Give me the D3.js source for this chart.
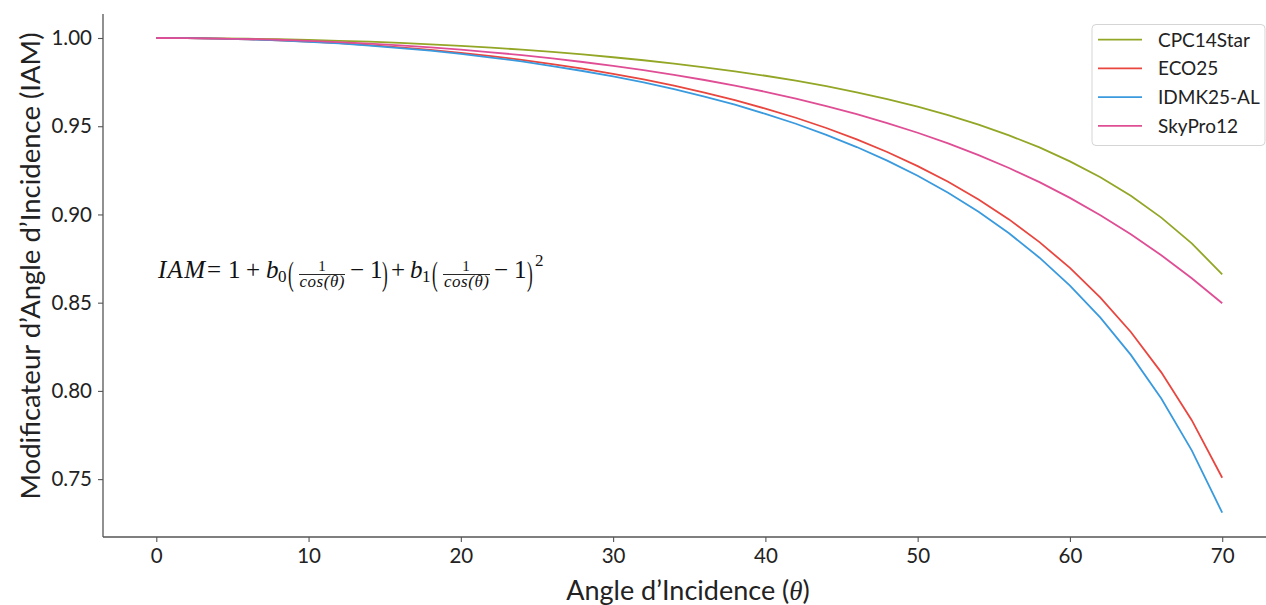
<!DOCTYPE html>
<html><head><meta charset="utf-8">
<script src="https://cdn.jsdelivr.net/npm/d3@7"></script>
<style>body{margin:0;background:#fff}svg{display:block}</style>
</head><body>
<svg id="c" width="1266" height="605"></svg>
<script>
const angles = [0,2,4,6,8,10,12,14,16,18,20,22,24,26,28,30,32,34,36,38,40,42,44,46,48,50,52,54,56,58,60,62,64,66,68,70];
const cpc14Star = [1.0000,1.0000,0.9998,0.9996,0.9993,0.9989,0.9984,0.9979,0.9972,0.9964,0.9955,0.9945,0.9934,0.9921,0.9907,0.9891,0.9874,0.9855,0.9834,0.9811,0.9786,0.9758,0.9727,0.9692,0.9654,0.9611,0.9563,0.9509,0.9448,0.9380,0.9301,0.9211,0.9106,0.8982,0.8836,0.8661];
const eco25 = [1.0000,0.9999,0.9997,0.9993,0.9987,0.9980,0.9971,0.9960,0.9947,0.9933,0.9916,0.9897,0.9876,0.9852,0.9826,0.9797,0.9765,0.9730,0.9691,0.9648,0.9600,0.9548,0.9490,0.9425,0.9354,0.9274,0.9185,0.9085,0.8972,0.8843,0.8697,0.8529,0.8334,0.8105,0.7834,0.7508];
const idmk25AL = [1.0000,0.9999,0.9997,0.9992,0.9986,0.9978,0.9969,0.9957,0.9943,0.9928,0.9910,0.9889,0.9867,0.9841,0.9813,0.9782,0.9748,0.9710,0.9668,0.9622,0.9570,0.9514,0.9451,0.9382,0.9305,0.9219,0.9123,0.9015,0.8893,0.8755,0.8597,0.8415,0.8204,0.7957,0.7663,0.7310];
const skyPro12 = [1.0000,0.9999,0.9997,0.9994,0.9990,0.9984,0.9977,0.9968,0.9958,0.9947,0.9934,0.9919,0.9903,0.9884,0.9864,0.9842,0.9818,0.9791,0.9762,0.9730,0.9695,0.9656,0.9614,0.9568,0.9518,0.9463,0.9403,0.9336,0.9263,0.9183,0.9094,0.8996,0.8888,0.8769,0.8638,0.8497];
const seriesNames = ["CPC14Star","ECO25","IDMK25-AL","SkyPro12"];
const xTicks = [0,10,20,30,40,50,60,70];
const yTicks = [0.75,0.80,0.85,0.90,0.95,1.00];

const colors = ["#93a626","#e8463f","#3a9ade","#df4e95"];
const seriesVals = [cpc14Star, eco25, idmk25AL, skyPro12];

const svg = d3.select("#c");
const L = 103, R = 1275.5, T = 14, B = 537;
const x = d3.scaleLinear().domain([-3.5, 73.5]).range([L, R]);
const y = d3.scaleLinear().domain([0.7172, 1.0136]).range([B, T]);
const sans = "Lato, 'Noto Sans', sans-serif";
const axisCol = "#555";

// axes
const gx = svg.append("g").attr("transform", `translate(0,${B})`)
  .call(d3.axisBottom(x).tickValues(xTicks).tickFormat(d3.format("d")).tickSize(5).tickPadding(5));
const gy = svg.append("g").attr("transform", `translate(${L},0)`)
  .call(d3.axisLeft(y).tickValues(yTicks).tickFormat(d3.format(".2f")).tickSize(5).tickPadding(6));
[gx, gy].forEach(g => {
  g.select(".domain").remove();
  g.selectAll(".tick line").attr("stroke", axisCol).attr("stroke-width", 1.1);
  g.selectAll(".tick text").attr("fill", "#222").style("font-family", sans).style("font-size", "20.5px");
});
gx.selectAll(".tick text").attr("dy", "0.8em");
svg.append("line").attr("x1", L).attr("x2", 1266).attr("y1", B).attr("y2", B).attr("stroke", axisCol).attr("stroke-width", 1.3);
svg.append("line").attr("x1", L).attr("x2", L).attr("y1", T).attr("y2", B).attr("stroke", axisCol).attr("stroke-width", 1.3);

// lines
const line = d3.line().x((d, i) => x(angles[i])).y(d => y(d));
seriesVals.forEach((vals, k) => {
  svg.append("path").datum(vals).attr("d", line).attr("fill", "none")
    .attr("stroke", colors[k]).attr("stroke-width", 1.8);
});

// axis labels
const xl = svg.append("text").attr("x", 688).attr("y", 600).attr("text-anchor", "middle")
  .style("font-family", sans).style("font-size", "27px").attr("fill", "#222");
xl.append("tspan").text("Angle d’Incidence (");
xl.append("tspan").text("θ").style("font-family", "'Liberation Serif', serif").style("font-style", "italic");
xl.append("tspan").text(")");
svg.append("text").attr("transform", "translate(40,266) rotate(-90)").attr("text-anchor", "middle")
  .style("font-family", sans).style("font-size", "27.5px").attr("fill", "#222")
  .text("Modificateur d’Angle d’Incidence (IAM)");

// legend
const lg = svg.append("g");
lg.append("rect").attr("x", 1092).attr("y", 24.5).attr("width", 173).attr("height", 121).attr("rx", 4)
  .attr("fill", "#fff").attr("fill-opacity", 0.8).attr("stroke", "#d5d5d5").attr("stroke-width", 1);
seriesNames.forEach((n, k) => {
  const yy = 39.7 + k * 28.7;
  lg.append("line").attr("x1", 1098).attr("x2", 1142).attr("y1", yy).attr("y2", yy)
    .attr("stroke", colors[k]).attr("stroke-width", 1.8);
  lg.append("text").attr("x", 1158).attr("y", yy + 7).text(n)
    .style("font-family", sans).style("font-size", "19px").attr("fill", "#222");
});

// formula
const serif = "'Liberation Serif', 'Times New Roman', serif";
const f = svg.append("g").style("font-family", serif).attr("fill", "#111");
function t(xp, yp, s, size, ital, anchor) {
  return f.append("text").attr("x", xp).attr("y", yp).text(s).style("font-size", size + "px")
    .style("font-style", ital ? "italic" : "normal").attr("text-anchor", anchor || "start");
}
function paren(xp, s) {
  return f.append("text").attr("transform", `translate(${xp},285) scale(0.72,1.4)`).text(s).style("font-size", "24px");
}
const bl = 277.5;
t(158, bl, "IAM", 25, true).attr("textLength", 47);
t(207, bl, "=", 25);
t(228, bl, "1", 25);
t(246, bl, "+", 25);
t(266, bl, "b", 25, true);
t(278, bl + 4.5, "0", 17);
paren(288, "(");
t(322, 271, "1", 15, false, "middle");
f.append("line").attr("x1", 299).attr("x2", 345).attr("y1", 274.5).attr("y2", 274.5).attr("stroke", "#111").attr("stroke-width", 0.9);
t(322, 287, "cos(θ)", 17, true, "middle").attr("textLength", 45);
t(350, bl, "−", 25);
t(370, bl, "1", 25);
paren(382, ")");
t(391, bl, "+", 25);
t(410, bl, "b", 25, true);
t(422, bl + 4.5, "1", 17);
paren(432, "(");
t(466, 271, "1", 15, false, "middle");
f.append("line").attr("x1", 443).attr("x2", 490).attr("y1", 274.5).attr("y2", 274.5).attr("stroke", "#111").attr("stroke-width", 0.9);
t(466.5, 287, "cos(θ)", 17, true, "middle").attr("textLength", 45);
t(494, bl, "−", 25);
t(514, bl, "1", 25);
paren(527, ")");
t(535, 266, "2", 17);
</script>
</body></html>
